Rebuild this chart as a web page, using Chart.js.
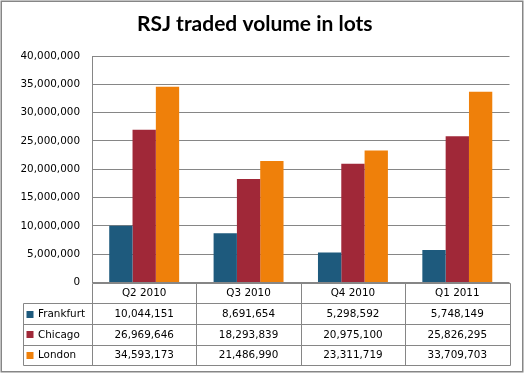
<!DOCTYPE html>
<html>
<head>
<meta charset="utf-8">
<script src="https://cdn.jsdelivr.net/npm/chart.js@4/dist/chart.umd.min.js"></script>
<style>
  html, body { margin: 0; padding: 0; background: #fff; }
  #wrap { position: relative; width: 525px; height: 373px; }
</style>
</head>
<body>
<div id="wrap"><canvas id="c" width="525" height="373"></canvas></div>
<script>
const chartTitle = "RSJ traded volume in lots";
const categories = ["Q2 2010", "Q3 2010", "Q4 2010", "Q1 2011"];
const seriesNames = ["Frankfurt", "Chicago", "London"];
const frankfurt = [10044151, 8691654, 5298592, 5748149];
const chicago = [26969646, 18293839, 20975100, 25826295];
const london = [34593173, 21486990, 23311719, 33709703];
const seriesColors = ["#1E5A7D", "#A02838", "#EF800A"];
const yMin = 0, yMax = 40000000, yStep = 5000000;

const GRID = "#868686";
const FONT = "DejaVu Sans";
const FS = 10.4;
const fmt = v => Number(v).toLocaleString("en-US");

const tablePlugin = {
  id: "dataTable",
  beforeDraw(chart) {
    const ctx = chart.ctx;
    ctx.save();
    ctx.fillStyle = "#fff";
    ctx.fillRect(0, 0, chart.width, chart.height);
    ctx.restore();
  },
  afterDraw(chart) {
    const ctx = chart.ctx;
    const ca = chart.chartArea;
    const n = categories.length;
    const colW = (ca.right - ca.left) / n;
    const rowH = 20.7;
    const top = ca.bottom;
    const legendLeft = 22.5;
    const px = v => Math.round(v) + 0.5;
    const rows = chart.data.datasets.length;
    const bottom = top + rowH * (rows + 1);
    ctx.save();
    ctx.strokeStyle = GRID;
    ctx.lineWidth = 1;
    ctx.beginPath();
    ctx.moveTo(px(ca.left), px(top)); ctx.lineTo(px(ca.right), px(top));
    for (let r = 1; r <= rows + 1; r++) {
      const y = px(top + r * rowH);
      ctx.moveTo(px(legendLeft), y); ctx.lineTo(px(ca.right), y);
    }
    ctx.moveTo(px(legendLeft), px(top + rowH)); ctx.lineTo(px(legendLeft), px(bottom));
    ctx.moveTo(px(ca.left), px(top)); ctx.lineTo(px(ca.left), px(bottom));
    for (let i = 1; i <= n; i++) {
      const x = px(ca.left + i * colW);
      ctx.moveTo(x, px(top)); ctx.lineTo(x, px(bottom));
    }
    ctx.stroke();

    ctx.fillStyle = "#000";
    ctx.font = FS + "px '" + FONT + "'";
    ctx.textBaseline = "middle";
    ctx.textAlign = "center";
    const xs = chart.scales.x;
    categories.forEach((c, i) => {
      ctx.fillText(c, xs.getPixelForValue(i), top + rowH / 2 + 0.5);
    });
    chart.data.datasets.forEach((ds, r) => {
      const cy = top + (r + 1) * rowH + rowH / 2 + 0.5;
      ctx.textAlign = "center";
      ctx.fillStyle = "#000";
      ds.data.forEach((v, i) => {
        ctx.fillText(fmt(v), xs.getPixelForValue(i), cy);
      });
      ctx.fillStyle = ds.backgroundColor;
      ctx.fillRect(26.5, Math.round(cy - 3.5), 7, 7);
      ctx.fillStyle = "#000";
      ctx.textAlign = "left";
      ctx.fillText(ds.label, 38, cy);
    });

    ctx.strokeStyle = GRID;
    ctx.lineWidth = 1.5;
    ctx.strokeRect(1.25, 1.25, 521.5, 370.5);
    ctx.restore();
  }
};

const seriesValues = [frankfurt, chicago, london];
new Chart(document.getElementById("c"), {
  type: "bar",
  data: {
    labels: categories,
    datasets: seriesNames.map((name, i) => ({
      label: name,
      data: seriesValues[i],
      backgroundColor: seriesColors[i],
      borderWidth: 0,
      categoryPercentage: 0.67,
      barPercentage: 1.0
    }))
  },
  options: {
    responsive: false,
    animation: false,
    devicePixelRatio: 1,
    layout: { padding: { left: 0, right: 15.5, top: 0, bottom: 90.4 } },
    plugins: {
      legend: { display: false },
      tooltip: { enabled: false },
      title: {
        display: true,
        text: chartTitle,
        color: "#000",
        font: { family: "Lato", size: 21, weight: "bold", lineHeight: 1.2 },
        padding: { top: 12, bottom: 18.8 }
      }
    },
    scales: {
      x: {
        display: false,
        grid: { display: false }
      },
      y: {
        min: yMin,
        max: yMax,
        ticks: {
          stepSize: yStep,
          color: "#000",
          padding: 12,
          font: { family: FONT, size: FS },
          callback: v => fmt(v)
        },
        grid: { color: GRID, drawTicks: false, lineWidth: 1 },
        border: { display: true, color: GRID, width: 1 },
        afterFit(scale) { scale.width = 92; }
      }
    }
  },
  plugins: [tablePlugin]
});
</script>
</body>
</html>
